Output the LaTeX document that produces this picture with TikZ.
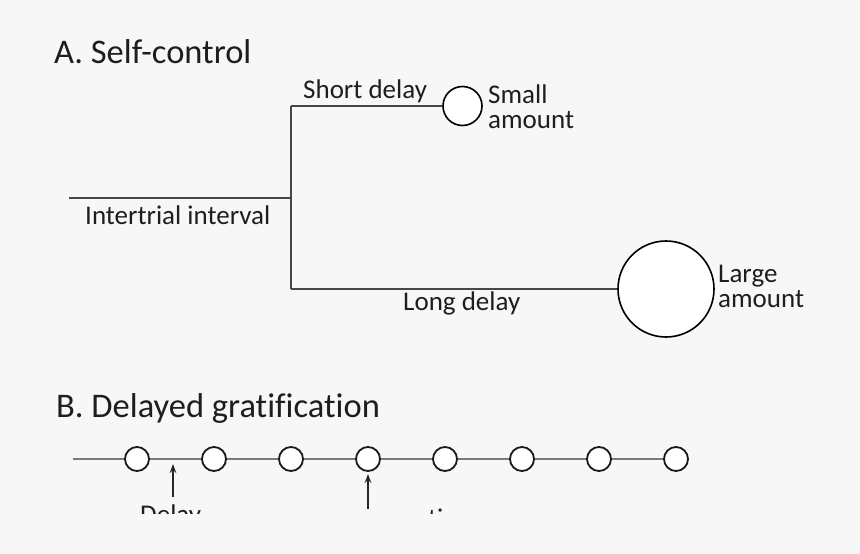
\documentclass[tikz,border=0pt]{standalone}
\usepackage{fontspec}
\setmainfont[Ligatures=NoCommon]{Carlito}
\usetikzlibrary{arrows.meta}
\definecolor{bg}{HTML}{F7F7F7}
\definecolor{lineA}{HTML}{474747}
\definecolor{lineB}{HTML}{7A7A7A}
\definecolor{txt}{HTML}{1E1E1E}
\tikzset{
  title/.style={anchor=base west, inner sep=0pt, text=txt, font=\fontsize{34.5}{37}\selectfont},
  lab/.style={anchor=base west, inner sep=0pt, text=txt, font=\fontsize{27}{30}\selectfont},
  branch/.style={draw=lineA, line width=2pt},
  ring/.style={circle, draw=black, line width=1.6pt, fill=white, inner sep=0pt},
  tline/.style={draw=lineB, line width=2.4pt},
  bead/.style={circle, draw=black!90, line width=1.8pt, fill=white, inner sep=0pt, minimum size=24pt},
  pointer/.style={draw=black!85, -{Stealth[length=9pt,width=6.5pt]}}
}
\begin{document}
\begin{tikzpicture}[x=1pt,y=-1pt]
\fill[bg] (0,0) rectangle (860,554);
\useasboundingbox (0,0) rectangle (860,554);

% ---- A. Self-control
\node[title] (tA) at (54,63) {A. Self-control};

\coordinate (start) at (69,198);
\coordinate (junc) at (291,198);
\coordinate (jtop) at (291,106);
\coordinate (jbot) at (291,289);
\node[ring, minimum size=39pt] (small) at (462.5,106) {};
\node[ring, minimum size=96pt] (large) at (666,289) {};

\draw[branch] (start) -- (junc);
\draw[branch] (jtop) -- (jbot);
\draw[branch] (jtop) -- (small);
\draw[branch, line width=1.6pt] (jbot) -- (large);

\node[lab] (ltshort) at (303,98) {Short delay};
\node[lab] (ltsmall1) at (488,103) {Small};
\node[lab] (ltsmall2) at (488,128) {amount};
\node[lab] (ltiti) at (85,224) {Intertrial interval};
\node[lab] (ltlong) at (403,310) {Long delay};
\node[lab] (ltlarge1) at (718,282) {Large};
\node[lab] (ltlarge2) at (718,307) {amount};

% ---- B. Delayed gratification
\node[title] (tB) at (56,417) {B. Delayed gratification};

\coordinate (tstart) at (73,459);
\foreach \i/\x in {1/137,2/214,3/291,4/368,5/445,6/522,7/599,8/676}{
  \node[bead] (c\i) at (\x,459) {};
}
\draw[tline] (tstart) -- (c1) -- (c2) -- (c3) -- (c4) -- (c5) -- (c6) -- (c7) -- (c8);

\begin{scope}
\clip (0,0) rectangle (860,513);
\coordinate (a1s) at (173,497);
\coordinate (a1t) at (173,464);
\coordinate (a2s) at (368,509);
\coordinate (a2t) at (368,474);
\draw[pointer, line width=1.2pt] (a1s) -- (a1t);
\draw[pointer, line width=2pt] (a2s) -- (a2t);
\node[lab] (ltdelay) at (140,523.5) {Delay};
\node[lab] (ltcons) at (328,527.5) {consumption};
\end{scope}
\end{tikzpicture}
\end{document}
